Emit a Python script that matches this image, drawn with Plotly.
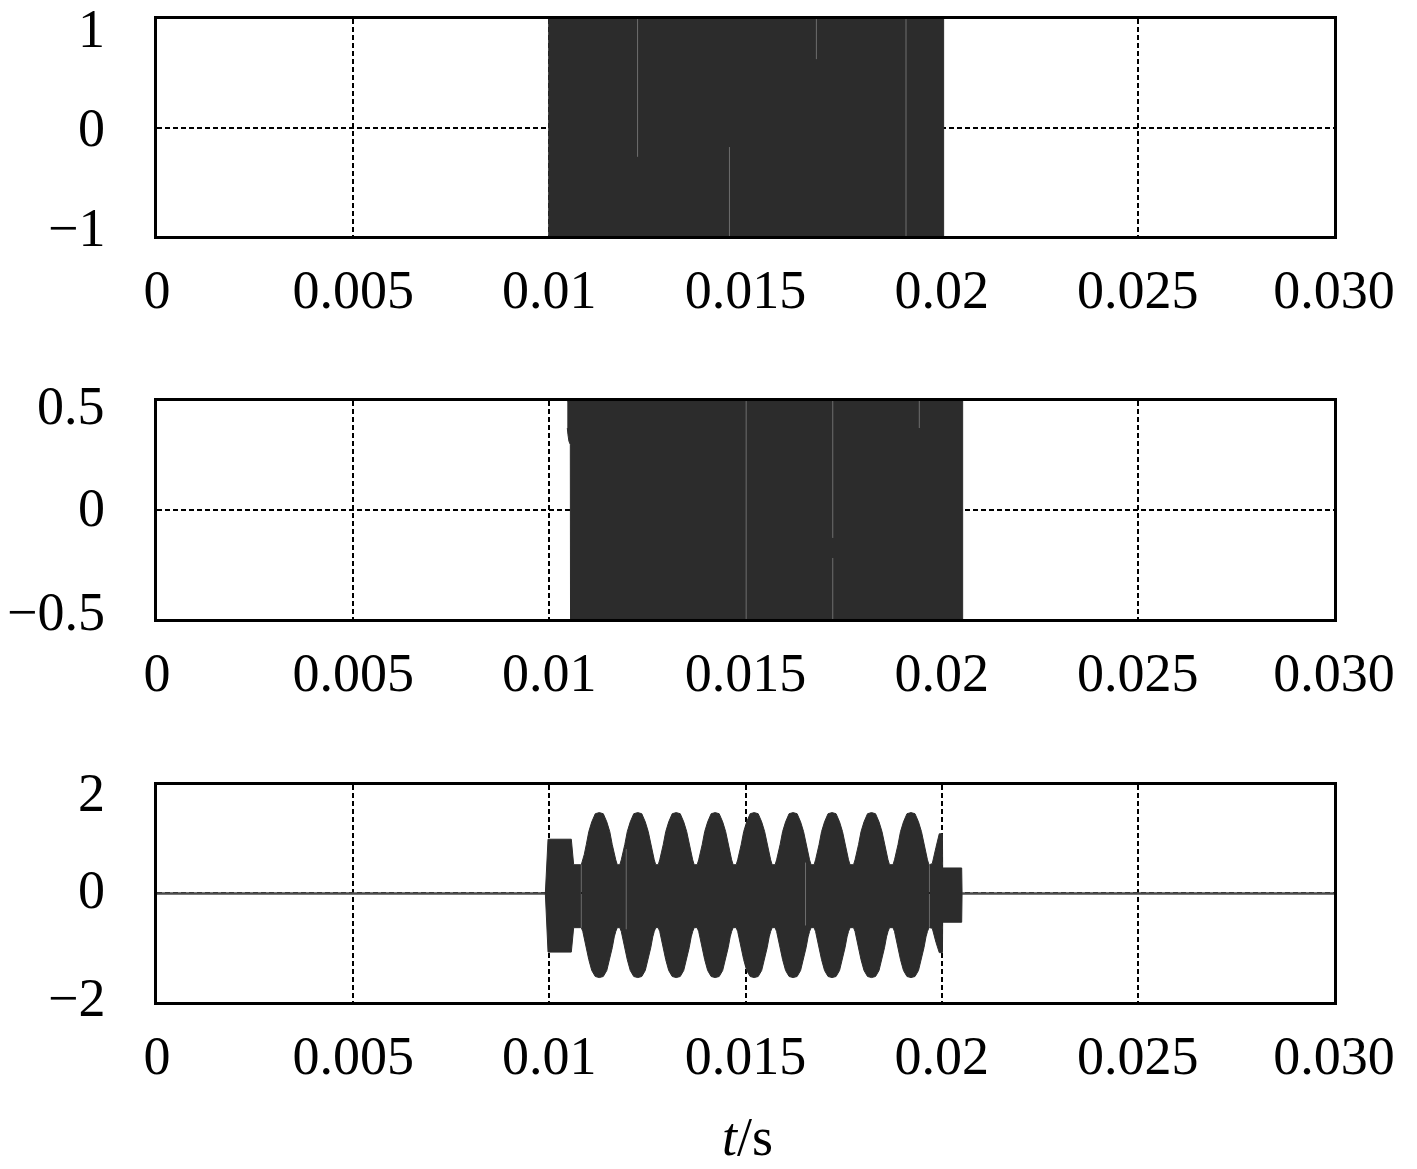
import plotly.graph_objects as go

# shared time axis
x_ticks = [0, 0.005, 0.01, 0.015, 0.02, 0.025, 0.03]
x_tick_text = ["0", "0.005", "0.01", "0.015", "0.02", "0.025", "0.030"]

# panel 1: switching signal, burst fills the whole +-1 band
p1_t = [0.00997, 0.02005]
p1_upper = [1.0, 1.0]
p1_lower = [-1.0, -1.0]
# thin light seams visible inside the burst
p1_seam_t = [0.012249, 0.014591, 0.016807, 0.019091]
p1_seam_top = [1.0, -0.18, 1.0, 1.0]
p1_seam_bot = [-0.27, -1.0, 0.63, -1.0]
p1_yticks = [1, 0, -1]
p1_ytext = ["1", "0", "\u22121"]

# panel 2: burst fills +-0.5, slanted top-left corner
p2_t = [0.010458, 0.010475, 0.010500, 0.010535, 0.010540, 0.020535]
p2_upper = [0.5, 0.5, 0.5, 0.5, 0.5, 0.5]
p2_lower = [0.376, 0.345, 0.315, 0.300, -0.5, -0.5]
p2_seam_t = [0.015017, 0.017224, 0.017224, 0.01943]
p2_seam_top = [0.5, 0.5, -0.22, 0.5]
p2_seam_bot = [-0.5, -0.128, -0.5, 0.376]
p2_yticks = [0.5, 0, -0.5]
p2_ytext = ["0.5", "0", "\u22120.5"]

# panel 3: idle line, start block, modulated lobes, end spike + block
p3_idle_t = [0, 0.009898, None, 0.02052, 0.0301]
p3_idle_y = [0, 0, None, 0, 0]

p3_start_t = [0.009898, 0.009967, 0.010560, 0.010620, 0.010800]
p3_start_up = [0.0, 1.00, 1.00, 0.53, 0.53]
p3_start_lo = [0.0, -1.08, -1.08, -0.63, -0.63]

# lobe peak times and the lobe profile (offset from peak, upper, lower)
p3_peak_t = [0.011273, 0.012254, 0.013234, 0.014227, 0.015221,
             0.016213, 0.017206, 0.018212, 0.019218]
lobe_dt = [-0.000458, -0.000420, -0.000382, -0.000331, -0.000267, -0.000191, -0.000102, 0.0,
           0.000102, 0.000191, 0.000267, 0.000331, 0.000382, 0.000420, 0.000458]
lobe_up = [0.53, 0.62, 0.72, 0.90, 1.14, 1.32, 1.47, 1.49,
           1.47, 1.32, 1.14, 0.90, 0.72, 0.62, 0.53]
lobe_lo = [-0.63, -0.70, -0.80, -1.00, -1.22, -1.42, -1.53, -1.55,
           -1.53, -1.42, -1.22, -1.00, -0.80, -0.70, -0.63]

p3_end_t = [0.019690, 0.019760, 0.019855, 0.019939, 0.020020, 0.020025, 0.020510, 0.020520]
p3_end_up = [0.53, 0.55, 0.85, 1.10, 1.10, 0.47, 0.47, 0.0]
p3_end_lo = [-0.63, -0.64, -0.90, -1.09, -1.09, -0.53, -0.53, 0.0]

p3_seam_t = [0.011960, 0.016530]
p3_seam_top = [0.82, 0.57]
p3_seam_bot = [-0.66, -0.59]
p3_yticks = [2, 0, -2]
p3_ytext = ["2", "0", "\u22122"]

# small vertical nudges (px) of the y labels, as placed in the original
p1_ylabel_shift = [-10, 0, 8]
p2_ylabel_shift = [-5, 2, 7]
p3_ylabel_shift = [-8, 3, 4]

FILL = "#2c2c2c"
SEAM = "#6e6e6e"
FONT = "Liberation Serif, Times New Roman, serif"

fig = go.Figure()


def add_band(t, upper, lower, xa, ya):
    # closed polygon between the upper and lower envelope
    xs = list(t) + list(reversed(t))
    ys = list(upper) + list(reversed(lower))
    fig.add_trace(go.Scatter(
        x=xs, y=ys, xaxis=xa, yaxis=ya, mode="lines", fill="toself",
        fillcolor=FILL, line=dict(color=FILL, width=1),
        showlegend=False, hoverinfo="skip"
    ))


def add_seams(t, top, bot, xa, ya):
    xs, ys = [], []
    for ti, a, b in zip(t, top, bot):
        xs += [ti, ti, None]
        ys += [a, b, None]
    fig.add_trace(go.Scatter(
        x=xs, y=ys, xaxis=xa, yaxis=ya, mode="lines",
        line=dict(color=SEAM, width=1), showlegend=False, hoverinfo="skip"
    ))


add_band(p1_t, p1_upper, p1_lower, "x", "y")
add_seams(p1_seam_t, p1_seam_top, p1_seam_bot, "x", "y")

add_band(p2_t, p2_upper, p2_lower, "x2", "y2")
add_seams(p2_seam_t, p2_seam_top, p2_seam_bot, "x2", "y2")

fig.add_trace(go.Scatter(
    x=p3_idle_t, y=p3_idle_y, xaxis="x3", yaxis="y3", mode="lines",
    line=dict(color="#4d4d4d", width=2.5), showlegend=False, hoverinfo="skip"
))
add_band(p3_start_t, p3_start_up, p3_start_lo, "x3", "y3")

env_t, env_up, env_lo = [], [], []
for pk in p3_peak_t:
    env_t += [pk + d for d in lobe_dt]
    env_up += lobe_up
    env_lo += lobe_lo
add_band(env_t, env_up, env_lo, "x3", "y3")

add_band(p3_end_t, p3_end_up, p3_end_lo, "x3", "y3")
add_seams(p3_seam_t, p3_seam_top, p3_seam_bot, "x3", "y3")

# layout: three stacked panels with dotted grid and full frame
domains = [[0.7792, 1.0], [0.3896, 0.6114], [0.0, 0.2208]]
y_ranges = [[-1, 1], [-0.5, 0.5], [-2, 2]]
y_ticks = [(p1_yticks, p1_ytext, p1_ylabel_shift),
           (p2_yticks, p2_ytext, p2_ylabel_shift),
           (p3_yticks, p3_ytext, p3_ylabel_shift)]

axis_common = dict(
    showline=True, linecolor="black", linewidth=2.8, mirror=True,
    showgrid=True, gridcolor="black", gridwidth=1.8, griddash="5px,3px",
    ticks="", zeroline=False, automargin=False, ticklabeloverflow="allow",
    tickfont=dict(family=FONT, size=54, color="black"),
)

layout = {}
annotations = []
for i in range(3):
    sfx = "" if i == 0 else str(i + 1)
    layout["xaxis" + sfx] = dict(
        axis_common, domain=[0, 1], range=[0, 0.03], anchor="y" + sfx,
        tickvals=x_ticks, ticktext=x_tick_text, ticklabelstandoff=4,
    )
    # y labels drawn as annotations so they can sit inside the frame like the original
    layout["yaxis" + sfx] = dict(
        axis_common, domain=domains[i], range=y_ranges[i], anchor="x" + sfx,
        tickvals=y_ticks[i][0], showticklabels=False,
    )
    for val, txt, shift in zip(*y_ticks[i]):
        annotations.append(dict(
            text=txt, x=0, y=val, xref="paper", yref="y" + sfx,
            xanchor="right", yanchor="middle", xshift=-50, yshift=shift,
            showarrow=False, font=dict(family=FONT, size=54, color="black"),
        ))

annotations.append(dict(
    text="<i>t</i>/s", x=0.502, y=-0.1699, xref="paper", yref="paper",
    xanchor="center", yanchor="bottom", showarrow=False,
    font=dict(family=FONT, size=54, color="black"),
))

fig.update_layout(
    **layout,
    width=1417, height=1169,
    margin=dict(l=157, r=83, t=19, b=167),
    paper_bgcolor="white", plot_bgcolor="white",
    font=dict(family=FONT, size=54, color="black"),
    annotations=annotations,
)

# page body margin would shift the figure
fig.write_html("out.html", config={"displayModeBar": False},
               post_script="document.body.style.margin='0px';")
